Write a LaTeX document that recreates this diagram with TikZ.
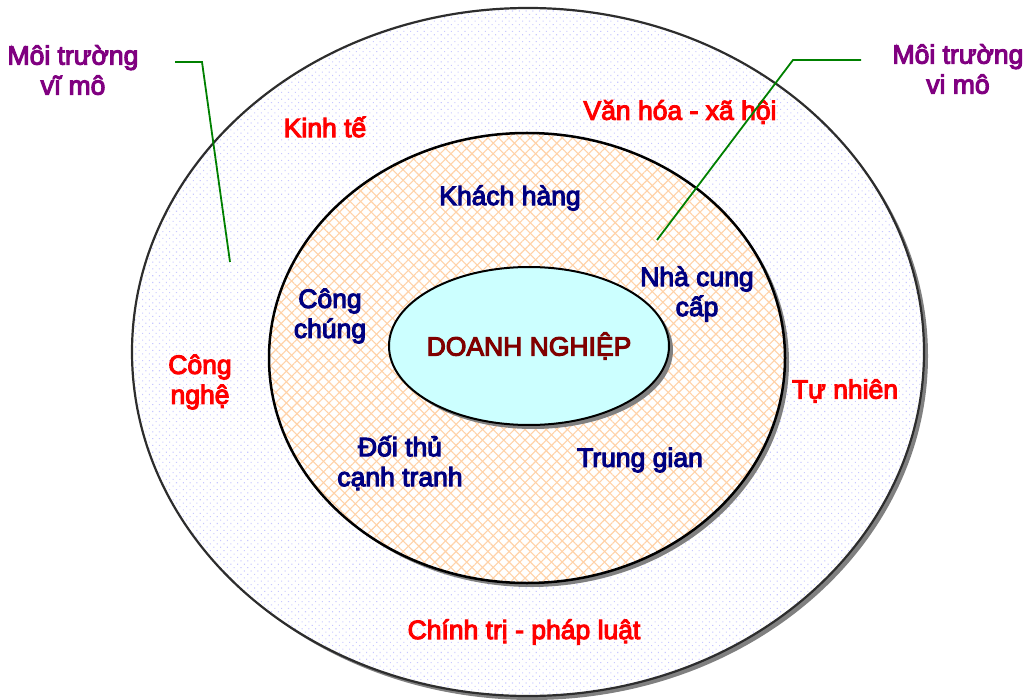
\documentclass[tikz,border=0pt]{standalone}
\usepackage{fontspec}
\setmainfont{Liberation Sans}
\newfontface\labfont{Liberation Sans}[FakeBold=4]
\usetikzlibrary{shapes.geometric,shadows,patterns.meta}

\definecolor{ringdot}{RGB}{200,200,255}
\definecolor{hatch}{RGB}{255,210,168}
\definecolor{corefill}{RGB}{204,255,255}
\definecolor{labpurple}{RGB}{128,0,128}
\definecolor{labnavy}{RGB}{0,0,128}
\definecolor{labdark}{RGB}{128,0,0}
\definecolor{leader}{RGB}{0,128,0}
\definecolor{shade}{RGB}{128,128,128}

\tikzset{
  ring/.style={ellipse, inner sep=0pt,
    drop shadow={shadow xshift=4pt, shadow yshift=-4pt, fill=shade, opacity=1}},
  macro/.style={ring, draw={rgb,255:red,45;green,45;blue,45}, line width=2.2pt,
    minimum width=792pt, minimum height=688pt,
    preaction={fill=white},
    pattern={Dots[distance=4.8pt, angle=45, radius=0.75pt]}, pattern color=ringdot},
  micro/.style={ring, draw=black, line width=2.5pt,
    minimum width=516pt, minimum height=450pt,
    preaction={fill=white},
    preaction={pattern={Lines[angle=45, distance=7.5pt, line width=1.1pt]}, pattern color=hatch},
    pattern={Lines[angle=-45, distance=7.5pt, line width=1.1pt]}, pattern color=hatch},
  core/.style={ring, draw=black, line width=2pt, fill=corefill,
    minimum width=280pt, minimum height=158pt},
  biglab/.style={font=\labfont\fontsize{26.5}{30}\selectfont, align=center, inner sep=0pt},
  outerlab/.style={biglab, text=red},
  innerlab/.style={biglab, text=labnavy},
  envlab/.style={biglab, text=labpurple},
  leadline/.style={draw=leader, line width=1.8pt},
}

\begin{document}
\begin{tikzpicture}[x=1pt, y=-1pt]
  \useasboundingbox (0,0) rectangle (1030,700);

  % nested environment rings
  \node[macro] (macroring) at (528,352) {};
  \node[micro] (microring) at (527,358) {};
  \node[core] (firm) at (529,346) {};
  \node[biglab, text=labdark] (firmname) at (firm.center) {DOANH NGHIỆP};

  % macro environment factors
  \node[outerlab] (kinhte) at (325,127) {Kinh tế};
  \node[outerlab] (vanhoa) at (680,112) {Văn hóa - xã hội};
  \node[outerlab] (congnghe) at (200,382) {Công\\nghệ};
  \node[outerlab] (tunhien) at (845,391) {Tự nhiên};
  \node[outerlab] (chinhtri) at (524,632) {Chính trị - pháp luật};

  % micro environment actors
  \node[innerlab] (khachhang) at (510,198) {Khách hàng};
  \node[innerlab] (nhacc) at (697,294) {Nhà cung\\cấp};
  \node[innerlab] (congchung) at (330,316) {Công\\chúng};
  \node[innerlab] (doithu) at (400,463) {Đối thủ\\cạnh tranh};
  \node[innerlab] (trunggian) at (640,460) {Trung gian};

  % level captions with leader lines
  \node[envlab] (vimo-left) at (73,70) {Môi trường\\vĩ mô};
  \node[envlab] (vimo-right) at (958,69) {Môi trường\\vi mô};

  \coordinate (lstart) at (175,62);
  \coordinate (lbend) at (202,62);
  \coordinate (lend) at (230,262);
  \draw[leadline] (lstart) -- (lbend) -- (lend);

  \coordinate (rstart) at (861,60);
  \coordinate (rbend) at (793,60);
  \coordinate (rend) at (657,240);
  \draw[leadline] (rstart) -- (rbend) -- (rend);
\end{tikzpicture}
\end{document}
